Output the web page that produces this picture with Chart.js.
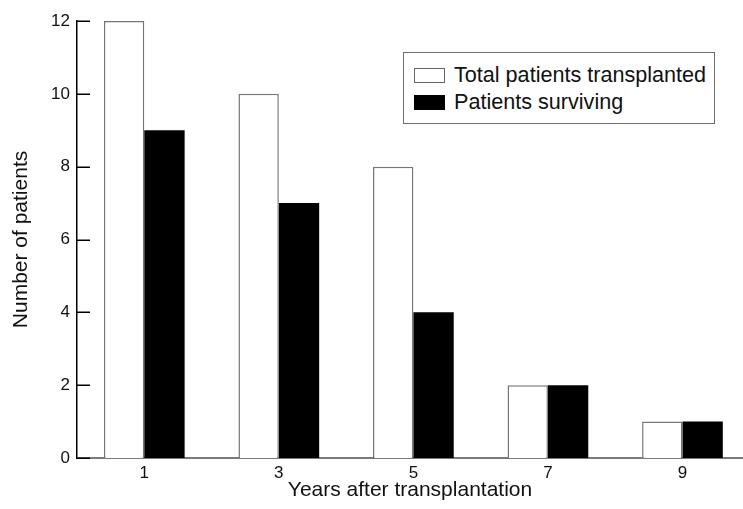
<!DOCTYPE html>
<html><head><meta charset="utf-8">
<script src="https://cdn.jsdelivr.net/npm/chart.js@4.4.0/dist/chart.umd.min.js"></script>
<style>
html,body{margin:0;padding:0;background:#fff;}
#wrap{position:relative;width:743px;height:509px;overflow:hidden;}
canvas{display:block;}
#legend{position:absolute;left:403px;top:52px;width:312px;height:72px;box-sizing:border-box;border:1px solid #6e6e6e;background:#fff;font-family:"Liberation Sans",Arial,sans-serif;font-size:21.6px;color:#111;}
.row{position:absolute;left:10px;height:24px;display:flex;align-items:center;white-space:nowrap;}
.sw{width:31px;height:15px;box-sizing:border-box;margin-right:9px;}
</style></head><body>
<div id="wrap"><canvas id="c" width="743" height="509"></canvas><div id="legend"></div></div>
<script>
const years = [1, 3, 5, 7, 9];
const tickLabels = ['1', '3', '5', '7', '9'];
const totalTransplanted = [12, 10, 8, 2, 1];
const survivors = [9, 7, 4, 2, 1];
const seriesNames = ['Total patients transplanted', 'Patients surviving'];
const yTicks = [0, 2, 4, 6, 8, 10, 12];

const FONT = '"Liberation Sans", Arial, sans-serif';

const innerTicks = {
  id: 'innerTicks',
  afterDatasetsDraw(chart) {
    const y = chart.scales.y;
    const ctx = chart.ctx;
    const x0 = chart.chartArea.left;
    ctx.save();
    ctx.strokeStyle = '#000';
    ctx.lineWidth = 1.5;
    y.ticks.forEach(t => {
      const py = Math.round(y.getPixelForValue(t.value)) + 0.25;
      ctx.beginPath();
      ctx.moveTo(x0, py);
      ctx.lineTo(x0 + 13, py);
      ctx.stroke();
    });
    ctx.restore();
  }
};

const chart = new Chart(document.getElementById('c'), {
  type: 'bar',
  data: {
    datasets: [
      {
        label: seriesNames[0],
        data: years.map((x, i) => ({ x: x, y: totalTransplanted[i] })),
        backgroundColor: '#ffffff',
        borderColor: '#777777',
        borderWidth: 1.5,
        barPercentage: 1,
        categoryPercentage: 0.6
      },
      {
        label: seriesNames[1],
        data: years.map((x, i) => ({ x: x, y: survivors[i] })),
        backgroundColor: '#000000',
        borderColor: '#000000',
        borderWidth: 0,
        barPercentage: 1,
        categoryPercentage: 0.6
      }
    ]
  },
  options: {
    responsive: false,
    animation: false,
    layout: { padding: { top: 21, right: 0, bottom: 0, left: 0 } },
    plugins: { legend: { display: false }, tooltip: { enabled: false } },
    scales: {
      x: {
        type: 'linear',
        min: 0,
        max: 9.9,
        offset: false,
        grid: { display: false, drawTicks: false },
        border: { display: true, color: '#7a7a7a', width: 2 },
        afterBuildTicks: s => { s.ticks = years.map(v => ({ value: v })); },
        afterFit: s => { s.height = 51; },
        ticks: {
          autoSkip: false,
          maxRotation: 0,
          padding: 5,
          color: '#111',
          font: { family: FONT, size: 17 },
          callback: (v, i) => tickLabels[i]
        },
        title: {
          display: true,
          text: 'Years after transplantation',
          color: '#111',
          font: { family: FONT, size: 21 },
          padding: { top: 0, bottom: 6 }
        }
      },
      y: {
        min: 0,
        max: 12,
        grid: { display: false, drawTicks: false },
        border: { display: true, color: '#000', width: 1.5 },
        afterBuildTicks: s => { s.ticks = yTicks.map(v => ({ value: v })); },
        afterFit: s => { s.width = 77; },
        ticks: {
          padding: 7,
          color: '#111',
          font: { family: FONT, size: 17 },
          callback: v => String(v)
        },
        title: {
          display: true,
          text: 'Number of patients',
          color: '#111',
          font: { family: FONT, size: 21 },
          padding: { top: 9, bottom: 0 }
        }
      }
    }
  },
  plugins: [innerTicks]
});

const legend = document.getElementById('legend');
chart.data.datasets.forEach((ds, i) => {
  const row = document.createElement('div');
  row.className = 'row';
  row.style.top = (10 + i * 27) + 'px';
  const sw = document.createElement('span');
  sw.className = 'sw';
  sw.style.background = ds.backgroundColor;
  sw.style.border = '1.5px solid ' + (i === 0 ? '#666' : '#000');
  const tx = document.createElement('span');
  tx.textContent = ds.label;
  row.appendChild(sw);
  row.appendChild(tx);
  legend.appendChild(row);
});
</script>
</body></html>
